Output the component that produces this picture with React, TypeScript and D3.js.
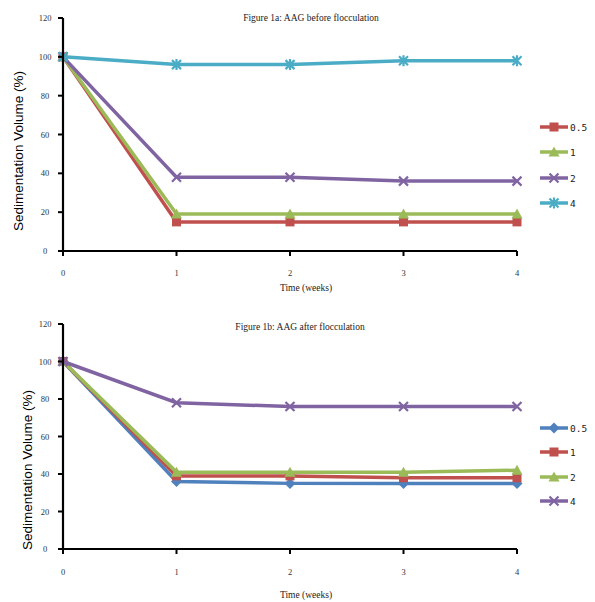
import React from "react";
import * as d3 from "d3";

const weeks = [0, 1, 2, 3, 4];
const yTicks = [0, 20, 40, 60, 80, 100, 120];

const seriesNamesA = ["0.5", "1", "2", "4"];
const a05 = [100, 15, 15, 15, 15];
const a1 = [100, 19, 19, 19, 19];
const a2 = [100, 38, 38, 36, 36];
const a4 = [100, 96, 96, 98, 98];

const seriesNamesB = ["0.5", "1", "2", "4"];
const b05 = [100, 36, 35, 35, 35];
const b1 = [100, 39, 39, 38, 38];
const b2 = [100, 41, 41, 41, 42];
const b4 = [100, 78, 76, 76, 76];

const titleA = "Figure 1a: AAG before flocculation";
const titleB = "Figure 1b: AAG after flocculation";

const BLUE = "#4F81BD", RED = "#C0504D", GREEN = "#9BBB59", PURPLE = "#8064A2", CYAN = "#4BACC6";

type Shape = "square" | "triangle" | "x" | "asterisk" | "diamond";

function Marker({ shape, x, y, color }: { shape: Shape; x: number; y: number; color: string }) {
  const s = 4.5;
  if (shape === "square") return <rect x={x - s} y={y - s} width={2 * s} height={2 * s} fill={color} />;
  if (shape === "diamond") return <path d={`M${x},${y - s - 1}L${x + s + 1},${y}L${x},${y + s + 1}L${x - s - 1},${y}Z`} fill={color} />;
  if (shape === "triangle") return <path d={`M${x},${y - s - 1}L${x + s + 1},${y + s}L${x - s - 1},${y + s}Z`} fill={color} />;
  if (shape === "x")
    return (
      <path d={`M${x - s},${y - s}L${x + s},${y + s}M${x - s},${y + s}L${x + s},${y - s}`} stroke={color} strokeWidth={2.2} />
    );
  return (
    <path
      d={`M${x - s},${y - s}L${x + s},${y + s}M${x - s},${y + s}L${x + s},${y - s}M${x},${y - s - 1}L${x},${y + s + 1}`}
      stroke={color}
      strokeWidth={2.2}
    />
  );
}

type Series = { name: string; values: number[]; color: string; shape: Shape };

function Panel({
  titleY, y0, y120, title, titleX, series, legendY, tickOff, xTitleOff, yTitleX, yTitleY,
}: {
  titleY: number; y0: number; y120: number; title: string; titleX: number; series: Series[]; legendY: number[];
  tickOff: number; xTitleOff: number; yTitleX: number; yTitleY: number;
}) {
  const x = d3.scaleLinear().domain([0, 4]).range([63, 517]);
  const y = d3.scaleLinear().domain([0, 120]).range([y0, y120]);
  const line = d3.line<number>().x((_, i) => x(weeks[i])).y((d) => y(d));
  return (
    <g>
      <text x={titleX} y={titleY} fontSize={9.5} fontFamily="Liberation Serif" textAnchor="middle" fill="#222">{title}</text>
      {series.map((s) => (
        <g key={s.name}>
          <path d={line(s.values) || ""} fill="none" stroke={s.color} strokeWidth={3.5} />
          {s.values.map((v, i) => (
            <Marker key={i} shape={s.shape} x={x(weeks[i])} y={y(v)} color={s.color} />
          ))}
        </g>
      ))}
      <line x1={x(0)} x2={x(0)} y1={y(120)} y2={y(0)} stroke="#000" strokeWidth={2.2} />
      <line x1={x(0)} x2={x(4)} y1={y(0)} y2={y(0)} stroke="#000" strokeWidth={2.2} />
      {yTicks.map((t) => (
        <g key={t}>
          <line x1={x(0) - 5} x2={x(0)} y1={y(t)} y2={y(t)} stroke="#000" strokeWidth={2} />
          <text x={x(0) - 18} y={y(t) + 3} fontSize={8.5} fontFamily="Liberation Serif" textAnchor="middle" fill="#333">{t}</text>
        </g>
      ))}
      {weeks.map((w) => (
        <g key={w}>
          <line x1={x(w)} x2={x(w)} y1={y(0)} y2={y(0) + 5} stroke="#000" strokeWidth={2} />
          <text x={x(w)} y={y(0) + tickOff} fontSize={8.5} fontFamily="Liberation Serif" textAnchor="middle" fill="#333">{w}</text>
        </g>
      ))}
      <text x={306} y={y(0) + xTitleOff} fontSize={9.5} fontFamily="Liberation Serif" textAnchor="middle" fill="#222">Time (weeks)</text>
      <text
        transform={`translate(${yTitleX},${yTitleY}) rotate(-90)`}
        fontSize={13.5}
        fontFamily="Liberation Sans"
        textAnchor="middle"
        fill="#000"
      >
        Sedimentation Volume  (%)
      </text>
      {series.map((s, i) => (
        <g key={s.name}>
          <line x1={540} x2={568} y1={legendY[i]} y2={legendY[i]} stroke={s.color} strokeWidth={3.5} />
          <Marker shape={s.shape} x={554} y={legendY[i]} color={s.color} />
          <text x={570} y={legendY[i] + 3.5} fontSize={9.5} fontFamily="DejaVu Sans Mono" fill="#222">{s.name}</text>
        </g>
      ))}
    </g>
  );
}

export default function App() {
  const seriesA: Series[] = [
    { name: seriesNamesA[0], values: a05, color: RED, shape: "square" },
    { name: seriesNamesA[1], values: a1, color: GREEN, shape: "triangle" },
    { name: seriesNamesA[2], values: a2, color: PURPLE, shape: "x" },
    { name: seriesNamesA[3], values: a4, color: CYAN, shape: "asterisk" },
  ];
  const seriesB: Series[] = [
    { name: seriesNamesB[0], values: b05, color: BLUE, shape: "diamond" },
    { name: seriesNamesB[1], values: b1, color: RED, shape: "square" },
    { name: seriesNamesB[2], values: b2, color: GREEN, shape: "triangle" },
    { name: seriesNamesB[3], values: b4, color: PURPLE, shape: "x" },
  ];
  return (
    <svg width={595} height={602} style={{ position: "absolute", left: 0, top: 0, background: "#fff" }}>
      <rect width={595} height={602} fill="#fff" />
      <Panel titleY={21} y0={251} y120={18} title={titleA} titleX={311} series={seriesA} legendY={[127, 152, 178, 203]}
        tickOff={25} xTitleOff={40} yTitleX={23} yTitleY={151} />
      <Panel titleY={330} y0={549} y120={324} title={titleB} titleX={300} series={seriesB} legendY={[428, 452, 477, 501]}
        tickOff={26} xTitleOff={49} yTitleX={32} yTitleY={470} />
    </svg>
  );
}
